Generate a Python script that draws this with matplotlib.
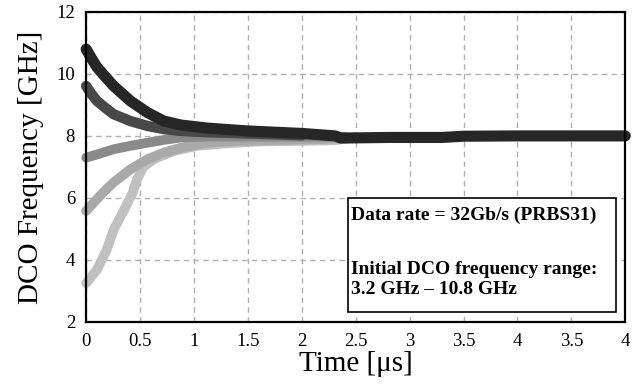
import numpy as np
import matplotlib.pyplot as plt
from matplotlib.patches import Rectangle

plt.rcParams['font.family'] = ['Liberation Serif', 'DejaVu Serif']

# --- x axis: position 0..5, labels as printed on the chart ---
x_ticks = [0, 0.5, 1, 1.5, 2, 2.5, 3, 3.5, 4, 4.5, 5]
x_tick_labels = ['0', '0.5', '1', '1.5', '2', '2.5', '3', '3.5', '4', '3.5', '4']
y_ticks = [2, 4, 6, 8, 10, 12]

# --- curves (lightest first so dark ends on top) ---
t5 = [0, 0.10, 0.19, 0.255, 0.35, 0.43, 0.47, 0.53, 0.60, 0.66, 0.82, 1.03, 1.3, 1.6, 2.0, 2.3, 2.5]
v5 = [3.25, 3.68, 4.32, 4.97, 5.6, 6.15, 6.58, 7.0, 7.18, 7.3, 7.52, 7.68, 7.76, 7.82, 7.84, 7.86, 7.95]

t4 = [0, 0.10, 0.18, 0.255, 0.41, 0.57, 0.72, 0.88, 1.13, 1.4, 1.8, 2.2, 2.5]
v4 = [5.58, 5.96, 6.25, 6.5, 6.92, 7.25, 7.46, 7.62, 7.78, 7.84, 7.87, 7.9, 7.95]

t3 = [0, 0.12, 0.255, 0.41, 0.57, 0.72, 0.88, 1.13, 1.5, 2.0, 2.4]
v3 = [7.3, 7.42, 7.57, 7.68, 7.78, 7.87, 7.95, 7.98, 7.98, 7.97, 7.97]

t2 = [0, 0.05, 0.10, 0.18, 0.255, 0.41, 0.57, 0.72, 0.88, 1.1, 1.5, 2.0]
v2 = [9.61, 9.35, 9.13, 8.9, 8.7, 8.48, 8.32, 8.22, 8.16, 8.12, 8.08, 8.02]

t1 = [0, 0.05, 0.10, 0.18, 0.255, 0.41, 0.57, 0.72, 0.88, 1.13, 1.5, 2.0, 2.31, 2.36, 2.8, 3.3, 3.5, 4.0, 5.0]
v1 = [10.8, 10.5, 10.22, 9.9, 9.61, 9.13, 8.75, 8.48, 8.35, 8.25, 8.16, 8.08, 8.0, 7.93, 7.95, 7.95, 7.99, 8.0, 8.0]

curves = [(t5, v5, '#c0c0c0', 7), (t4, v4, '#a9a9a9', 7), (t3, v3, '#8a8a8a', 7),
          (t2, v2, '#484848', 7.5), (t1, v1, '#262626', 8)]

fig = plt.figure(figsize=(6.38, 3.85), dpi=100)
ax = fig.add_axes([0.135, 0.164, 0.845, 0.805])

for t, v, c, lw in curves:
    ax.plot(t, v, color=c, lw=lw, solid_capstyle='round', solid_joinstyle='round',
            zorder=3, clip_on=False)

ax.set_xlim(0, 5)
ax.set_ylim(2, 12)
ax.set_xticks(x_ticks)
ax.set_xticklabels(x_tick_labels)
ax.set_yticks(y_ticks)
ax.tick_params(length=0, labelsize=13.5, pad=8)
ax.grid(True, color='#b0b0b0', ls=(0, (4, 3)), lw=1)
for s in ax.spines.values():
    s.set_linewidth(1.6)
    s.set_color('black')
    s.set_zorder(5)

ax.set_xlabel('Time [\u03bcs]', fontsize=21, labelpad=1)
ax.set_ylabel('DCO Frequency [GHz]', fontsize=21, labelpad=9)

# --- annotation box ---
ax.add_patch(Rectangle((2.43, 2.32), 2.48, 3.68, facecolor='white', edgecolor='black',
                       lw=1.2, zorder=6))
ax.text(2.46, 5.45, 'Data rate = 32Gb/s (PRBS31)', fontsize=14, fontweight='bold',
        va='center', ha='left', zorder=7)
ax.text(2.46, 3.68, 'Initial DCO frequency range:', fontsize=14, fontweight='bold',
        va='center', ha='left', zorder=7)
ax.text(2.46, 3.03, '3.2 GHz \u2013 10.8 GHz', fontsize=14, fontweight='bold',
        va='center', ha='left', zorder=7)

fig.savefig('out.png', dpi=100)
